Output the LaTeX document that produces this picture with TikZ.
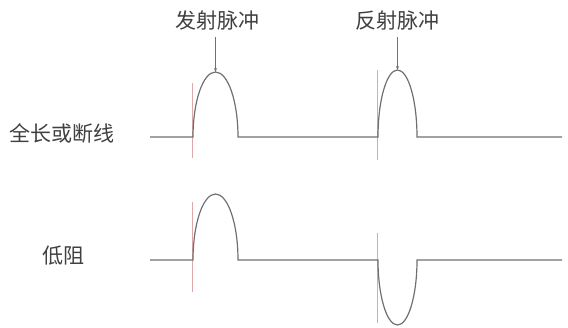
\documentclass[tikz,border=0pt]{standalone}
\usepackage{fontspec}
\newfontfamily\cjk{Noto Sans CJK SC}
\usetikzlibrary{arrows.meta}
\definecolor{wave}{HTML}{707070}
\definecolor{mark}{HTML}{DDA8A8}
\begin{document}
\begin{tikzpicture}[x=1pt,y=-1pt,
  waveline/.style={draw=wave,line width=1.2pt},
  markline/.style={draw=mark,line width=1pt},
  lbl/.style={font=\cjk\fontsize{21}{23}\selectfont,text=black!75,inner sep=0pt},
  pointer/.style={draw=wave,line width=0.7pt,-{Stealth[length=4pt,width=3pt]}}]
\useasboundingbox (0,0) rectangle (568,327);
% labels
\node[lbl] (l1) at (62,133) {全长或断线};
\node[lbl] (l2) at (63,256) {低阻};
\node[lbl] (t1) at (217,21) {发射脉冲};
\node[lbl] (t2) at (397,21) {反射脉冲};
% top trace
\coordinate (a0) at (150,137);
\coordinate (a1) at (193,137);
\coordinate (a3) at (378,137);
\coordinate (a5) at (562,137);
\coordinate (p1) at (215.5,72);
\coordinate (p2) at (397.5,70);
\draw[markline] (192.5,83) -- (192.5,158);
\draw[markline] (377.5,70) -- (377.5,160);
\draw[waveline] (a0) -- (a1) arc[start angle=180,end angle=0,x radius=22.5,y radius=-65] -- (a3)
  arc[start angle=180,end angle=0,x radius=19.5,y radius=-67] -- (a5);
\coordinate (q1) at (215.5,37);
\coordinate (q2) at (397.5,37);
\draw[pointer] (q1) -- (p1);
\draw[pointer] (q2) -- (p2);
% bottom trace
\coordinate (b0) at (150,260);
\coordinate (b1) at (193,260);
\coordinate (b3) at (378,260);
\coordinate (b5) at (562,260);
\draw[markline] (192.5,202) -- (192.5,292);
\draw[markline] (377.5,233) -- (377.5,323);
\draw[waveline] (b0) -- (b1) arc[start angle=180,end angle=0,x radius=22.5,y radius=-66] -- (b3)
  arc[start angle=180,end angle=360,x radius=19.5,y radius=-65] -- (b5);
\end{tikzpicture}
\end{document}
